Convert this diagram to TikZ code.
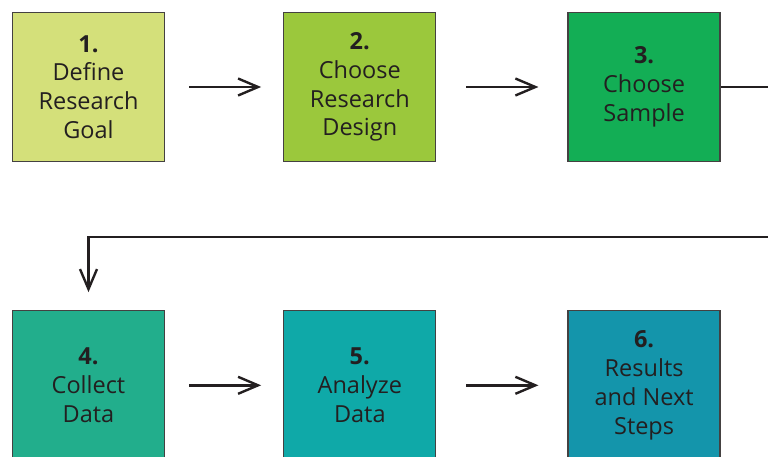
\documentclass[tikz,border=0pt]{standalone}
\usepackage{fontspec}
\setmainfont{Open Sans}
\usetikzlibrary{arrows.meta,positioning,calc}

\definecolor{inkdark}{HTML}{231F20}
\definecolor{stepone}{HTML}{D4E07A}
\definecolor{steptwo}{HTML}{9BC83C}
\definecolor{stepthree}{HTML}{13AE55}
\definecolor{stepfour}{HTML}{22AE8C}
\definecolor{stepfive}{HTML}{0FA9A8}
\definecolor{stepsix}{HTML}{1495AB}

\begin{document}
\begin{tikzpicture}[
    x=1pt, y=-1pt,
    stepbox/.style={rectangle, draw=inkdark!85, line width=1.3pt, minimum width=152pt, minimum height=149pt,
        inner sep=0pt, align=center, text=inkdark, font=\fontsize{23.5}{28.7}\selectfont},
    arrow/.style={-{Straight Barb[length=20pt, width=17pt, line width=2.4pt]}, line width=2.4pt, draw=inkdark}
]
\clip (0,0) rectangle (768,456);
\node[stepbox, fill=stepone] (define) at (88.5,87) {\textbf{1.}\\Define\\Research\\Goal};
\node[stepbox, fill=steptwo, right=118pt of define] (design) {\textbf{2.}\\Choose\\Research\\Design};
\node[stepbox, fill=stepthree, right=131pt of design] (sample) {\textbf{3.}\\Choose\\Sample};
\node[stepbox, fill=stepfour, below=148pt of define] (collect) {\textbf{4.}\\Collect\\Data};
\node[stepbox, fill=stepfive, below=148pt of design] (analyze) {\textbf{5.}\\Analyze\\Data};
\node[stepbox, fill=stepsix, below=148pt of sample] (results) {\textbf{6.}\\Results\\and Next\\Steps};

\coordinate (wrap) at (790,237);

\draw[arrow, shorten <=24pt, shorten >=22pt] (define) -- (design);
\draw[arrow, shorten <=30pt, shorten >=29pt] (design) -- (sample);
\draw[arrow] (sample.east) -| (wrap) -| ($(collect.north)+(0,-18)$);
\draw[arrow, shorten <=24pt, shorten >=22pt] (collect) -- (analyze);
\draw[arrow, shorten <=30pt, shorten >=29pt] (analyze) -- (results);
\end{tikzpicture}
\end{document}
